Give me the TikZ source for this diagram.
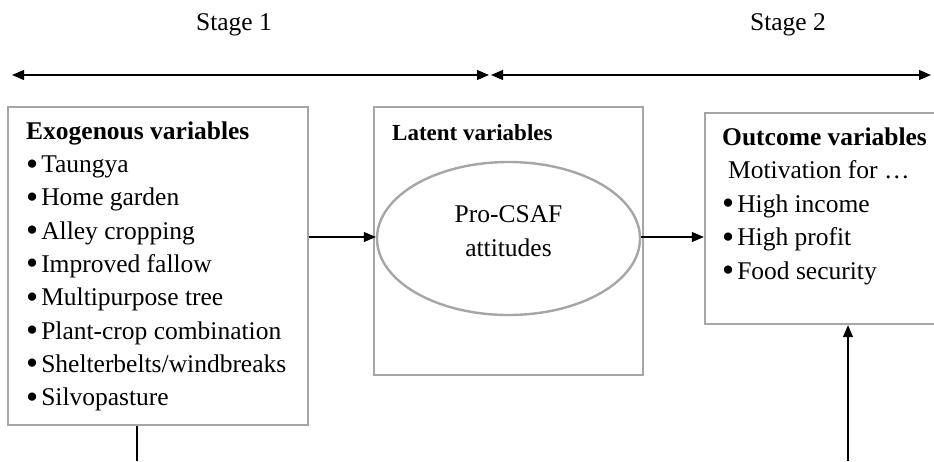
\documentclass[tikz,border=0pt]{standalone}
\usepackage{fontspec}
\setmainfont{Liberation Serif}
\usetikzlibrary{arrows.meta,shapes.geometric}

% a slightly heavier list bullet
\newcommand{\listdot}{\raisebox{-2.5pt}{\scalebox{1.35}{\textbullet}}\hspace{3pt}}

\begin{document}
\begin{tikzpicture}[x=1pt,y=-1pt,
  panel/.style={draw=black!35, line width=2.4pt, rectangle, inner sep=0pt},
  bubble/.style={draw=black!35, line width=2.4pt, ellipse, inner sep=0pt},
  txt/.style={anchor=base west, inner sep=0pt, font=\fontsize{25.5}{30}\selectfont},
  head/.style={txt, font=\fontsize{25.5}{30}\selectfont\bfseries},
  flow/.style={draw=black, line width=1.1pt, -{Triangle[length=12pt,width=10pt]}},
  span/.style={draw=black, line width=1.1pt, {Triangle[length=12pt,width=10pt]}-{Triangle[length=12pt,width=10pt]}}
]
\useasboundingbox (0,0) rectangle (934,461);

% stage captions and their extents
\node[txt, anchor=base] (s1) at (234,30) {Stage 1};
\node[txt, anchor=base] (s2) at (788,30) {Stage 2};
\coordinate (a1) at (12,75);
\coordinate (a2) at (489,75);
\coordinate (a3) at (491,75);
\coordinate (a4) at (931,75);
\draw[span] (a1) -- (a2);
\draw[span] (a3) -- (a4);

% the three panels
\node[panel, minimum width=300pt, minimum height=318pt] (exo) at (158,266) {};
\node[panel, minimum width=269pt, minimum height=268pt] (lat) at (508.5,241) {};
\node[bubble, minimum width=263pt, minimum height=153pt] (att) at (508.5,238.5) {};
\node[panel, minimum width=250pt, minimum height=211pt] (out) at (830,218.5) {};

% exogenous variables
\node[head] (exoh) at (26,139) {Exogenous variables};
\foreach \t [count=\i from 0] in {Taungya, Home garden, Alley cropping, Improved fallow,
  Multipurpose tree, Plant-crop combination, Shelterbelts/windbreaks, Silvopasture}
  \node[txt] (exo\i) at (26,172.5+33.3*\i) {\listdot\t};

% latent variables
\node[txt, font=\fontsize{23}{28}\selectfont\bfseries] (lath) at (392,140) {Latent variables};
\node[txt, anchor=base] (att1) at (508.5,222) {Pro-CSAF};
\node[txt, anchor=base] (att2) at (508.5,256) {attitudes};

% outcome variables
\node[head] (outh) at (722,145) {Outcome variables};
\node[txt] (outm) at (728,178.5) {Motivation for …};
\foreach \t [count=\i from 0] in {High income, High profit, Food security}
  \node[txt] (out\i) at (722,212+33.5*\i) {\listdot\t};

% connectors
\coordinate (exodown) at (exo.south -| 137,0);
\coordinate (exoend) at (137,461);
\draw[line width=1.1pt] (exodown) -- (exoend);
\draw[flow] (exo.east |- 0,237) -- (att.west |- 0,237);
\draw[flow] (att.east |- 0,237) -- (out.west |- 0,237);
\coordinate (outup) at (848,461);
\draw[flow] (outup) -- (out.south -| outup);
\end{tikzpicture}
\end{document}
